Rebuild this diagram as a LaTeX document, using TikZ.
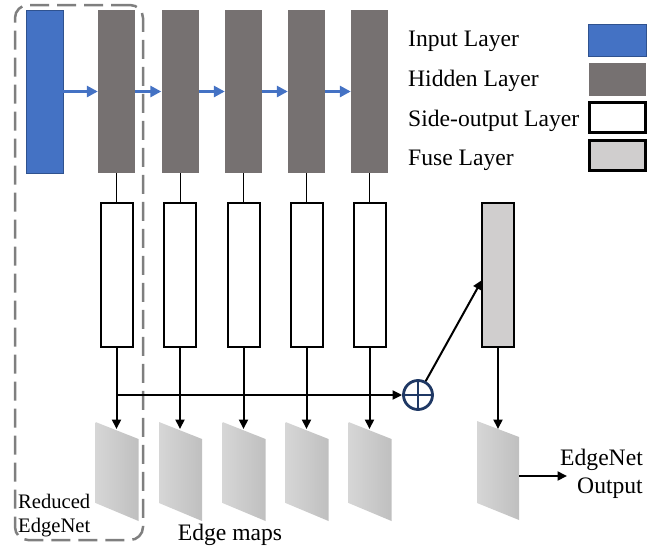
\documentclass[tikz,border=0pt]{standalone}
\usepackage{fontspec}
\setmainfont{Liberation Serif}
\usetikzlibrary{arrows.meta}
\definecolor{inblue}{HTML}{4472C4}
\definecolor{inborder}{HTML}{2F528F}
\definecolor{hidgray}{HTML}{767171}
\definecolor{fusegray}{HTML}{D0CECE}
\definecolor{navy}{HTML}{1F3864}
\definecolor{dashgray}{HTML}{7F7F7F}
\tikzset{
  inlayer/.style={rectangle, fill=inblue, draw=inborder, line width=0.8pt, minimum width=37pt, minimum height=163pt, inner sep=0pt},
  hidlayer/.style={rectangle, fill=hidgray, minimum width=37pt, minimum height=163pt, inner sep=0pt},
  sidelayer/.style={rectangle, fill=white, draw=black, line width=2pt, minimum width=32pt, minimum height=144pt, inner sep=0pt},
  fuselayer/.style={rectangle, fill=fusegray, draw=black, line width=2pt, minimum width=32pt, minimum height=144pt, inner sep=0pt},
  bluearrow/.style={draw=inblue, line width=3.5pt, -{Triangle[length=11pt,width=11pt]}},
  blackarrow/.style={draw=black, line width=2pt, -{Triangle[length=9.5pt,width=9pt]}},
  thinline/.style={draw=black, line width=1pt},
  edgemap/.style={left color=gray!32, right color=gray!50, draw=none},
  bigtext/.style={font=\fontsize{23.6}{27}\selectfont, inner sep=0pt},
  smalltext/.style={font=\fontsize{20.6}{24}\selectfont, inner sep=0pt},
}
\begin{document}
\begin{tikzpicture}[x=1pt,y=-1pt]
\useasboundingbox (0,0) rectangle (662,549);
% reduced EdgeNet dashed frame
\node[draw=dashgray, line width=2.5pt, dash pattern=on 19pt off 8pt, rounded corners=13pt,
      minimum width=128pt, minimum height=535pt, inner sep=0pt] (reduced) at (79,272.5) {};
% input & hidden layers
\node[inlayer] (in) at (44.5,91.5) {};
\foreach \i/\x in {1/116.5,2/180,3/243.5,4/306.5,5/369.5}{
  \node[hidlayer] (h\i) at (\x,91.5) {};
  \node[sidelayer] (s\i) at (\x,275) {};
  \draw[thinline] (h\i.south) -- (s\i.north);
  \shade[edgemap] (\x-21,422) -- (\x+22,439) -- (\x+22,521) -- (\x-21,503) -- cycle;
  \coordinate (e\i) at (\x,429);
  \draw[blackarrow] (s\i.south) -- (e\i);
}
\draw[bluearrow] (in) -- (h1);
\draw[bluearrow] (h1) -- (h2);
\draw[bluearrow] (h2) -- (h3);
\draw[bluearrow] (h3) -- (h4);
\draw[bluearrow] (h4) -- (h5);
% fusion
\node[circle, draw=navy, line width=2.8pt, minimum size=29pt, inner sep=0pt,
      path picture={\draw[navy, line width=2.8pt] (path picture bounding box.north) -- (path picture bounding box.south)
                    (path picture bounding box.west) -- (path picture bounding box.east);}] (p) at (418,395) {};
\coordinate (j1) at (116.5,395);
\draw[blackarrow] (j1) -- (p.west);
\node[fuselayer] (f) at (498,275) {};
\coordinate (fin) at (482,280);
\draw[blackarrow] (p) -- (fin);
\shade[edgemap] (477,421) -- (519,437) -- (519,520) -- (477,503) -- cycle;
\coordinate (eo) at (498,429);
\draw[blackarrow] (f.south) -- (eo);
\coordinate (oa) at (519,476);
\coordinate (ob) at (567,476);
\draw[blackarrow] (oa) -- (ob);
\node[bigtext, anchor=base east] (out1) at (643,465.5) {EdgeNet};
\node[bigtext, anchor=base east] (out2) at (643,493) {Output};
% labels
\node[bigtext, anchor=base] (maps) at (230,540) {Edge maps};
\node[smalltext, anchor=base west] (red1) at (18,508) {Reduced};
\node[smalltext, anchor=base west] (red2) at (18,532) {EdgeNet};
% legend
\node[bigtext, anchor=base west] (t1) at (408,46.5) {Input Layer};
\node[bigtext, anchor=base west] (t2) at (408,86.5) {Hidden Layer};
\node[bigtext, anchor=base west] (t3) at (408,126) {Side-output Layer};
\node[bigtext, anchor=base west] (t4) at (408,165.5) {Fuse Layer};
\node[rectangle, fill=inblue, draw=inborder, line width=1pt, minimum width=58pt, minimum height=32pt, inner sep=0pt] (k1) at (617.5,40) {};
\node[rectangle, fill=hidgray, minimum width=57pt, minimum height=33pt, inner sep=0pt] (k2) at (617.5,79.5) {};
\node[rectangle, fill=white, draw=black, line width=2.5pt, minimum width=56pt, minimum height=30pt, inner sep=0pt] (k3) at (617.5,117.5) {};
\node[rectangle, fill=fusegray, draw=black, line width=2.5pt, minimum width=56pt, minimum height=30pt, inner sep=0pt] (k4) at (617.5,155.5) {};
\end{tikzpicture}
\end{document}
